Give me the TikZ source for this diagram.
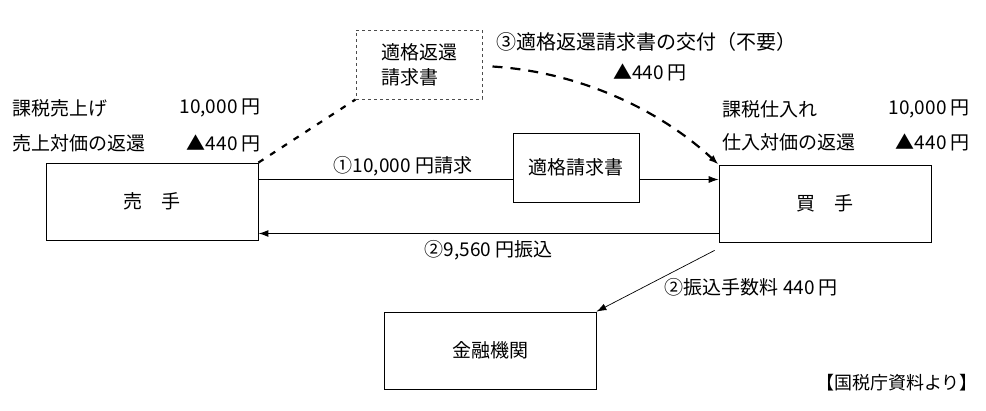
\documentclass[tikz,border=0pt]{standalone}
\usepackage{fontspec}
\setmainfont{Noto Sans CJK JP}
\usetikzlibrary{arrows.meta}

\begin{document}
\begin{tikzpicture}[x=1pt,y=-1pt,>={Latex[length=10pt,width=7pt]},
  party/.style={draw,line width=0.8pt,minimum width=212pt,minimum height=77pt,inner sep=0pt,font=\fontsize{19}{22}\selectfont},
  docbox/.style={draw,line width=0.7pt,minimum width=126pt,minimum height=69pt,inner sep=0pt,font=\fontsize{19}{25}\selectfont},
  lbl/.style={inner sep=0pt,font=\fontsize{19}{22}\selectfont}]
\useasboundingbox (0,0) rectangle (986,410);

% Parties
\node[party] (seller) at (152,201.5) {売　手};
\node[party] (buyer) at (825,203.5) {買　手};
\node[party] (bank) at (490,350.5) {金融機関};

% Documents
\node[docbox] (inv) at (576,167.5) {適格請求書};
\node[docbox,dashed,draw=black!70,line width=1pt,align=left] (ret) at (419,64.5) {適格返還\\請求書};

% Amounts
\node[lbl,anchor=west] (sa) at (12,108) {課税売上げ};
\node[lbl,anchor=east] (sav) at (261,108) {10,000 円};
\node[lbl,anchor=west] (sb) at (12,143) {売上対価の返還};
\node[lbl,anchor=east] (sbv) at (261,143) {▲440 円};
\node[lbl,anchor=west] (ba) at (722,109) {課税仕入れ};
\node[lbl,anchor=east] (bav) at (970,109) {10,000 円};
\node[lbl,anchor=west] (bb) at (722,142) {仕入対価の返還};
\node[lbl,anchor=east] (bbv) at (970,142) {▲440 円};

% Flows
\coordinate (c1) at ([yshift=22pt]seller.east);
\draw[line width=0.8pt] (c1) -- (c1 -| inv.west);
\draw[line width=0.8pt,->] (c1 -| inv.east) -- (c1 -| buyer.west);
\node[lbl,above=3pt] (fa) at (403,179) {①10,000 円請求};

\coordinate (c2) at ([yshift=-30pt]buyer.west);
\draw[line width=1.3pt,->] (c2) -- (c2 -| seller.east)
  node[lbl,midway,below=6pt] (fb) {②9,560 円振込};

\coordinate (c3) at ([shift={(-4pt,-8pt)}]buyer.south west);
\draw[line width=0.7pt,->] (c3) -- (bank.north east)
  node[lbl,pos=0.45,anchor=north west,xshift=3pt] (fc) {②振込手数料 440 円};

% Return invoice (not needed)
\draw[line width=2.2pt,dash pattern=on 6pt off 8pt] (seller.north east) -- (ret.south west);
\draw[line width=2.2pt,dash pattern=on 10pt off 8pt,->] ([xshift=10pt,yshift=-2pt]ret.east)
  .. controls (580,72) and (660,110) .. (buyer.north west);
\node[lbl,anchor=west,font=\fontsize{20}{22}\selectfont] (fd) at (496,42) {③適格返還請求書の交付（不要）};
\node[lbl] (fdv) at (650,72) {▲440 円};

% Source
\node[lbl,anchor=east,font=\fontsize{18}{20}\selectfont] (src) at (978,383) {【国税庁資料より】};
\end{tikzpicture}
\end{document}
